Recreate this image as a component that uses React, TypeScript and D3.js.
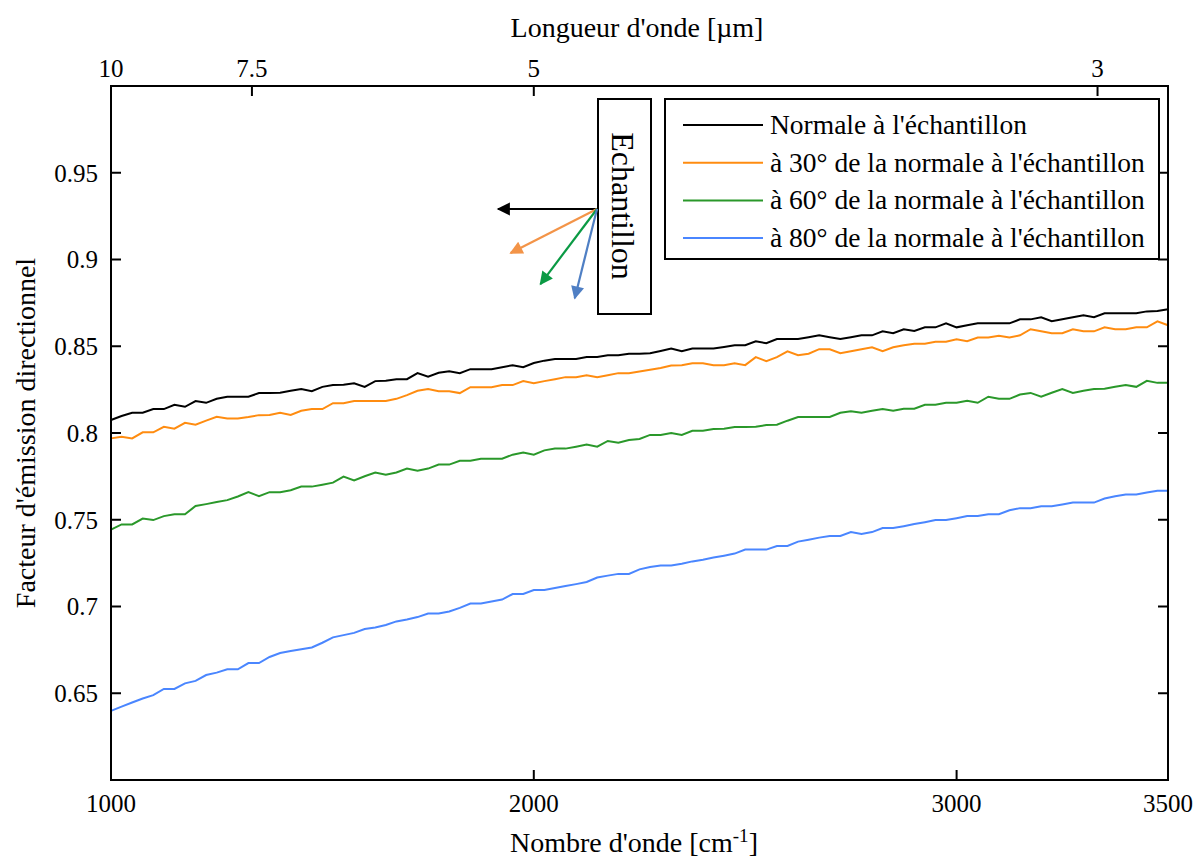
import React from "react";
import * as d3 from "d3";

const wavenumberStart = 1000;
const wavenumberStep = 25;

const normal = [0.8075,0.8098,0.8117,0.8117,0.8138,0.8138,0.8163,0.8151,0.8184,0.8174,0.8197,0.8209,0.8209,0.8209,0.8230,0.8230,0.8232,0.8243,0.8253,0.8241,0.8266,0.8276,0.8278,0.8287,0.8266,0.8299,0.8301,0.8310,0.8310,0.8345,0.8324,0.8347,0.8356,0.8345,0.8368,0.8368,0.8368,0.8379,0.8391,0.8379,0.8403,0.8417,0.8427,0.8427,0.8427,0.8438,0.8438,0.8448,0.8448,0.8457,0.8457,0.8460,0.8473,0.8487,0.8471,0.8487,0.8487,0.8487,0.8496,0.8506,0.8506,0.8529,0.8517,0.8542,0.8542,0.8542,0.8552,0.8563,0.8552,0.8542,0.8552,0.8563,0.8563,0.8586,0.8575,0.8598,0.8588,0.8609,0.8609,0.8632,0.8609,0.8621,0.8632,0.8632,0.8632,0.8632,0.8655,0.8655,0.8667,0.8644,0.8655,0.8667,0.8678,0.8667,0.8690,0.8690,0.8690,0.8690,0.8701,0.8703,0.8713];

const deg30 = [0.7969,0.7979,0.7969,0.8004,0.8004,0.8036,0.8025,0.8059,0.8048,0.8071,0.8094,0.8084,0.8084,0.8092,0.8103,0.8104,0.8117,0.8104,0.8128,0.8138,0.8138,0.8172,0.8172,0.8184,0.8184,0.8184,0.8184,0.8197,0.8218,0.8243,0.8253,0.8241,0.8241,0.8230,0.8264,0.8264,0.8264,0.8276,0.8276,0.8299,0.8287,0.8299,0.8310,0.8322,0.8322,0.8333,0.8322,0.8333,0.8345,0.8345,0.8354,0.8364,0.8375,0.8389,0.8391,0.8402,0.8402,0.8391,0.8391,0.8402,0.8391,0.8437,0.8414,0.8437,0.8471,0.8448,0.8457,0.8483,0.8483,0.8460,0.8471,0.8483,0.8494,0.8471,0.8494,0.8506,0.8515,0.8515,0.8526,0.8526,0.8540,0.8529,0.8550,0.8550,0.8561,0.8550,0.8563,0.8598,0.8586,0.8575,0.8575,0.8598,0.8586,0.8586,0.8609,0.8598,0.8598,0.8609,0.8609,0.8644,0.8621];

const deg60 = [0.7443,0.7473,0.7473,0.7507,0.7498,0.7521,0.7532,0.7532,0.7579,0.7590,0.7602,0.7613,0.7634,0.7659,0.7636,0.7659,0.7659,0.7670,0.7691,0.7691,0.7702,0.7714,0.7749,0.7726,0.7751,0.7772,0.7760,0.7772,0.7795,0.7783,0.7795,0.7818,0.7818,0.7840,0.7840,0.7852,0.7852,0.7852,0.7875,0.7887,0.7875,0.7900,0.7910,0.7910,0.7921,0.7933,0.7921,0.7954,0.7944,0.7960,0.7966,0.7989,0.7989,0.8000,0.7989,0.8013,0.8013,0.8023,0.8025,0.8034,0.8034,0.8036,0.8046,0.8048,0.8071,0.8092,0.8092,0.8092,0.8092,0.8117,0.8126,0.8117,0.8128,0.8138,0.8128,0.8140,0.8140,0.8163,0.8163,0.8174,0.8174,0.8186,0.8174,0.8209,0.8197,0.8197,0.8222,0.8231,0.8209,0.8232,0.8253,0.8231,0.8243,0.8253,0.8255,0.8266,0.8277,0.8266,0.8301,0.8289,0.8289];

const deg80 = [0.6398,0.6423,0.6447,0.6470,0.6489,0.6525,0.6525,0.6557,0.6571,0.6605,0.6619,0.6638,0.6638,0.6674,0.6674,0.6709,0.6732,0.6743,0.6753,0.6764,0.6791,0.6822,0.6835,0.6848,0.6870,0.6879,0.6893,0.6914,0.6925,0.6939,0.6960,0.6960,0.6971,0.6992,0.7017,0.7017,0.7029,0.7040,0.7072,0.7072,0.7095,0.7095,0.7106,0.7118,0.7129,0.7141,0.7167,0.7178,0.7188,0.7188,0.7214,0.7228,0.7236,0.7236,0.7247,0.7260,0.7270,0.7282,0.7293,0.7305,0.7328,0.7328,0.7328,0.7349,0.7349,0.7374,0.7385,0.7397,0.7406,0.7406,0.7429,0.7418,0.7429,0.7452,0.7452,0.7463,0.7475,0.7486,0.7498,0.7498,0.7509,0.7521,0.7521,0.7532,0.7532,0.7555,0.7567,0.7567,0.7578,0.7578,0.7588,0.7599,0.7599,0.7599,0.7622,0.7635,0.7645,0.7645,0.7657,0.7667,0.7667];

const seriesNames = [
  "Normale à l'échantillon",
  "à 30° de la normale à l'échantillon",
  "à 60° de la normale à l'échantillon",
  "à 80° de la normale à l'échantillon",
];
const seriesColors = ["#000000", "#ff8c10", "#2a982a", "#4a86ff"];
const arrowColors = ["#000000", "#f39448", "#0a9a44", "#4f7fc4"];

const yTicks = [0.65, 0.7, 0.75, 0.8, 0.85, 0.9, 0.95];
const xTicks = [1000, 2000, 3000, 3500];
const topTicks = [10, 7.5, 5, 3];

// arrow directions in degrees below the normal (normal points left), as drawn
const arrowAngles = [0, 27, 53, 76];
const arrowLengths = [99, 97, 94, 92];

const FONT = "'Liberation Serif', 'Times New Roman', serif";

export default function App() {
  const W = 1204, H = 858;
  const L = 111, R = 1168, T = 86, B = 780;
  const x = d3.scaleLinear().domain([1000, 3500]).range([L, R]);
  const y = d3.scaleLinear().domain([0.6, 1.0]).range([B, T]);
  const all = [normal, deg30, deg60, deg80];
  const line = d3
    .line<number>()
    .x((_, i) => x(wavenumberStart + i * wavenumberStep))
    .y((d) => y(d));

  const ox = 597, oy = 209;

  return (
    <svg
      width={W}
      height={H}
      style={{ position: "absolute", left: 0, top: 0, background: "#fff" }}
      fontFamily={FONT}
    >
      <defs>
        {arrowColors.map((c, i) => (
          <marker
            key={i}
            id={`ah${i}`}
            viewBox="0 0 10 10"
            refX="9"
            refY="5"
            markerWidth="6.5"
            markerHeight="6"
            markerUnits="strokeWidth"
            orient="auto"
          >
            <path d="M0,0 L10,5 L0,10 z" fill={c} />
          </marker>
        ))}
      </defs>
      <rect width={W} height={H} fill="#fff" />

      {/* data lines */}
      {all.map((s, i) => (
        <path key={i} d={line(s) || ""} fill="none" stroke={seriesColors[i]} strokeWidth={2} />
      ))}

      {/* axes box */}
      <rect x={L} y={T} width={R - L} height={B - T} fill="none" stroke="#000" strokeWidth={2} />

      {/* y ticks */}
      {yTicks.map((t) => (
        <g key={t}>
          <line x1={L} x2={L + 10} y1={y(t)} y2={y(t)} stroke="#000" strokeWidth={2} />
          <line x1={R} x2={R - 10} y1={y(t)} y2={y(t)} stroke="#000" strokeWidth={2} />
          <text x={L - 13} y={y(t)} dy="0.35em" textAnchor="end" fontSize={25}>
            {String(t)}
          </text>
        </g>
      ))}

      {/* bottom ticks */}
      {xTicks.map((t) => (
        <g key={t}>
          <line x1={x(t)} x2={x(t)} y1={B} y2={B - 10} stroke="#000" strokeWidth={2} />
          <text x={x(t)} y={B + 32} textAnchor="middle" fontSize={25}>
            {String(t)}
          </text>
        </g>
      ))}

      {/* top ticks (wavelength in µm) */}
      {topTicks.map((t) => (
        <g key={t}>
          <line x1={x(1e4 / t)} x2={x(1e4 / t)} y1={T} y2={T + 10} stroke="#000" strokeWidth={2} />
          <text x={x(1e4 / t)} y={T - 9} textAnchor="middle" fontSize={25}>
            {String(t)}
          </text>
        </g>
      ))}

      {/* axis titles */}
      <text x={634} y={852} textAnchor="middle" fontSize={28}>
        Nombre d'onde [cm<tspan dy={-10} fontSize={19}>-1</tspan>
        <tspan dy={10}>]</tspan>
      </text>
      <text x={637} y={37} textAnchor="middle" fontSize={28}>
        Longueur d'onde [µm]
      </text>
      <text
        transform={`translate(35, ${(T + B) / 2}) rotate(-90)`}
        textAnchor="middle"
        fontSize={28}
      >
        Facteur d'émission directionnel
      </text>

      {/* Echantillon box */}
      <rect x={598} y={99} width={53} height={215} fill="#fff" stroke="#000" strokeWidth={2} />
      <text
        transform={`translate(612, 206) rotate(90)`}
        textAnchor="middle"
        fontSize={32}
      >
        Echantillon
      </text>

      {/* arrows */}
      {arrowAngles.map((a, i) => {
        const rad = (a * Math.PI) / 180;
        const len = arrowLengths[i];
        const ex = ox - len * Math.cos(rad);
        const ey = oy + len * Math.sin(rad);
        return (
          <line
            key={i}
            x1={ox}
            y1={oy}
            x2={ex}
            y2={ey}
            stroke={arrowColors[i]}
            strokeWidth={2.2}
            markerEnd={`url(#ah${i})`}
          />
        );
      })}

      {/* legend */}
      <rect x={665} y={99} width={494} height={160} fill="#fff" stroke="#000" strokeWidth={2} />
      {seriesNames.map((n, i) => {
        const ly = 125 + i * 37.7;
        return (
          <g key={i}>
            <line x1={683} x2={763} y1={ly} y2={ly} stroke={seriesColors[i]} strokeWidth={2} />
            <text x={770} y={ly} dy="0.33em" fontSize={27.5}>
              {n}
            </text>
          </g>
        );
      })}
    </svg>
  );
}
